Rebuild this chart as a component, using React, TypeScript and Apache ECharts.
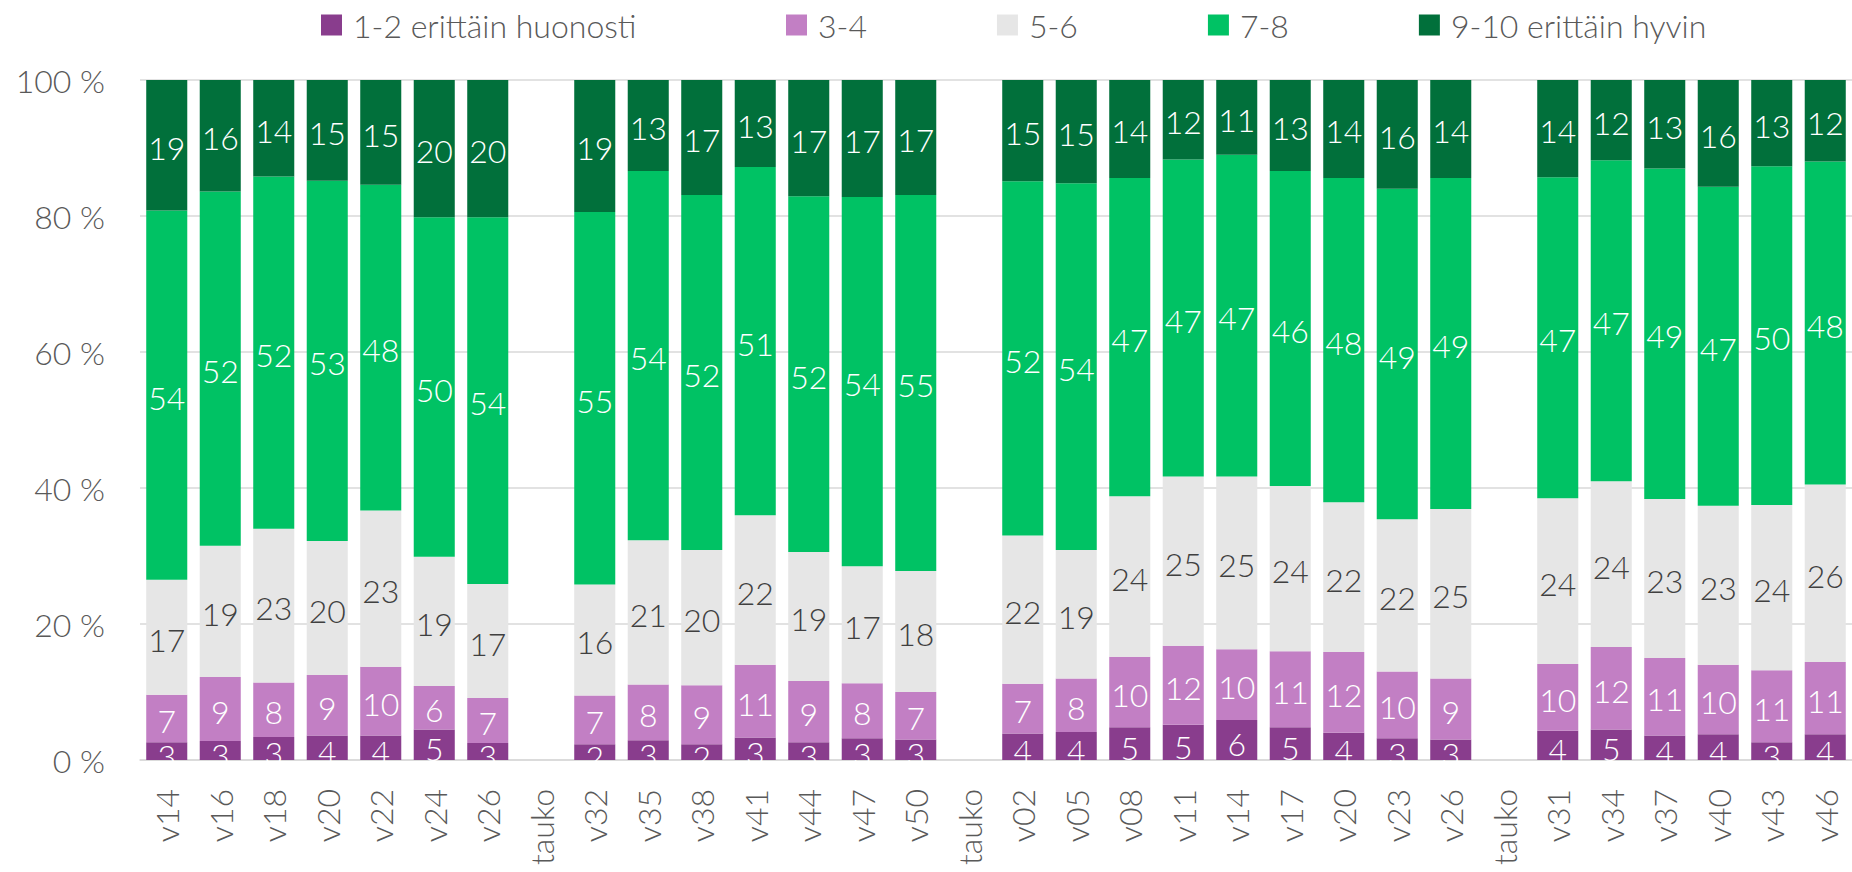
import React, { useEffect, useRef } from "react";
import * as echarts from "echarts";

const categories = [
  "v14", "v16", "v18", "v20", "v22", "v24", "v26", "tauko",
  "v32", "v35", "v38", "v41", "v44", "v47", "v50", "tauko",
  "v02", "v05", "v08", "v11", "v14", "v17", "v20", "v23", "v26", "tauko",
  "v31", "v34", "v37", "v40", "v43", "v46",
];

const seriesNames = ["1-2 erittäin huonosti", "3-4", "5-6", "7-8", "9-10 erittäin hyvin"];

const s12 = [2.6, 2.8, 3.4, 3.6, 3.6, 4.5, 2.5, null, 2.3, 2.9, 2.3, 3.3, 2.6, 3.2, 3.0, null, 3.9, 4.1, 4.8, 5.2, 5.9, 4.8, 4.0, 3.2, 3.0, null, 4.3, 4.5, 3.6, 3.8, 2.6, 3.8];
const s34 = [7.0, 9.4, 8.0, 8.9, 10.1, 6.4, 6.6, null, 7.2, 8.2, 8.7, 10.7, 9.0, 8.1, 7.0, null, 7.3, 7.9, 10.4, 11.6, 10.4, 11.2, 11.9, 9.8, 9.0, null, 9.8, 12.1, 11.4, 10.2, 10.6, 10.6];
const s56 = [16.9, 19.3, 22.6, 19.7, 23.0, 19.0, 16.8, null, 16.3, 21.2, 19.9, 22.0, 19.0, 17.2, 17.8, null, 21.8, 18.9, 23.6, 24.9, 25.4, 24.3, 22.0, 22.4, 24.9, null, 24.4, 24.4, 23.4, 23.4, 24.3, 26.1];
const s78 = [54.3, 52.1, 51.8, 53.0, 47.9, 49.9, 53.9, null, 54.8, 54.3, 52.2, 51.2, 52.3, 54.3, 55.3, null, 52.1, 53.9, 46.8, 46.6, 47.3, 46.3, 47.7, 48.6, 48.7, null, 47.2, 47.2, 48.6, 46.9, 49.8, 47.5];
const s910 = [19.2, 16.4, 14.2, 14.8, 15.4, 20.2, 20.2, null, 19.4, 13.4, 16.9, 12.8, 17.1, 17.2, 16.9, null, 14.9, 15.2, 14.4, 11.7, 11.0, 13.4, 14.4, 16.0, 14.4, null, 14.3, 11.8, 13.0, 15.7, 12.7, 12.0];

const yTicks = [0, 20, 40, 60, 80, 100];

const colors = ["#893D8D", "#C27FC4", "#E6E6E6", "#00C264", "#01703B"];
const labelColors = ["#FFFFFF", "#FFFFFF", "#404040", "#FFFFFF", "#FFFFFF"];
const labelOffsets = [[0, 4], [0, 2], [0, 2], [0, 2], [0, 2]];
const legendTextWidths = [303, 47, 46, 47, 272];

const FONT = "Lato";

export default function App() {
  const ref = useRef<HTMLDivElement>(null);
  useEffect(() => {
    if (!ref.current) return;
    const chart = echarts.init(ref.current, undefined, { renderer: "svg" });
    const all = [s12, s34, s56, s78, s910];
    const series = all.map((d, i) => ({
      name: seriesNames[i],
      type: "bar",
      stack: "total",
      data: d,
      barCategoryGap: "23.3%",
      itemStyle: { color: colors[i] },
      label: {
        show: true,
        position: "inside",
        offset: labelOffsets[i],
        color: labelColors[i],
        fontFamily: FONT,
        fontWeight: 300,
        fontSize: 32,
        formatter: (p: any) => (p.value == null ? "" : String(Math.round(p.value))),
      },
    }));
    chart.setOption({
      animation: false,
      textStyle: { fontFamily: FONT },
      legend: {
        left: 316,
        top: 4,
        itemWidth: 21,
        itemHeight: 21,
        itemGap: 130,
        icon: "rect",
        data: seriesNames.map((n, i) => ({ name: n, textStyle: { width: legendTextWidths[i] } })),
        textStyle: {
          color: "#595959",
          fontFamily: FONT,
          fontWeight: 300,
          fontSize: 32,
          lineHeight: 21,
          padding: [0, 0, 0, 6],
        },
      },
      grid: { left: 140, top: 80, width: 1723, height: 680, containLabel: false },
      xAxis: {
        type: "category",
        data: categories,
        axisLine: { show: true, lineStyle: { color: "#D9D9D9", width: 1.5 } },
        axisTick: { show: false },
        axisLabel: {
          interval: 0,
          rotate: 90,
          margin: 29,
          color: "#595959",
          fontFamily: FONT,
          fontWeight: 300,
          fontSize: 32,
        },
      },
      yAxis: {
        type: "value",
        min: yTicks[0],
        max: yTicks[yTicks.length - 1],
        interval: 20,
        axisLine: { show: false },
        axisTick: { show: false },
        splitLine: { lineStyle: { color: "#D9D9D9", width: 1.5 } },
        axisLabel: {
          margin: 35,
          color: "#595959",
          fontFamily: FONT,
          fontWeight: 300,
          fontSize: 32,
          formatter: "{value} %",
        },
      },
      graphic: [
        {
          type: "rect",
          z: 100,
          silent: true,
          shape: { x: 140, y: 761, width: 1712, height: 24 },
          style: { fill: "#FFFFFF" },
        },
      ],
      series,
    });
    return () => chart.dispose();
  }, []);
  return (
    <div
      ref={ref}
      style={{ position: "fixed", left: 0, top: 0, width: 1852, height: 872, overflow: "hidden", background: "#fff" }}
    />
  );
}
